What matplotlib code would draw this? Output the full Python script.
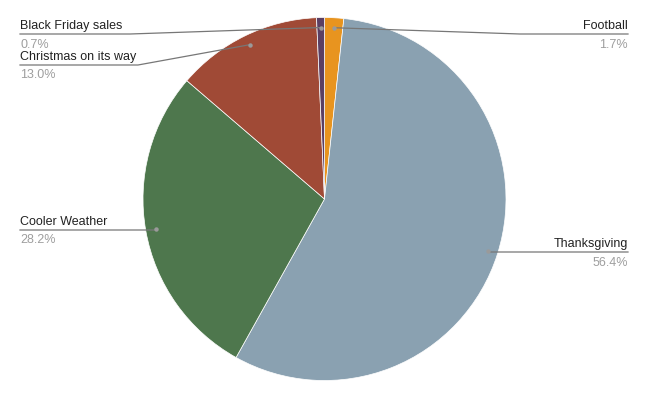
import numpy as np
import matplotlib.pyplot as plt

# Slice data (clockwise from 12 o'clock)
labels = ['Football', 'Thanksgiving', 'Cooler Weather', 'Christmas on its way', 'Black Friday sales']
values = [1.7, 56.4, 28.2, 13.0, 0.7]
colors = ['#E8941F', '#8AA1B1', '#4E774D', '#A04A36', '#5B3F63']

# label layout: (elbow x, line y, text x, side) in pixel coords (y from top)
layout = {
    'Football': (520, 35, 628, 'right'),
    'Thanksgiving': (490, 253, 628, 'right'),
    'Cooler Weather': (155, 231, 20, 'left'),
    'Christmas on its way': (138, 66, 20, 'left'),
    'Black Friday sales': (130, 35, 20, 'left'),
}

W, H = 649, 402
cx, cy, r = 324.5, H - 200, 181.5

fig = plt.figure(figsize=(W / 100, H / 100), dpi=100)
ax = fig.add_axes([0, 0, 1, 1])
plt.rcParams['font.family'] = 'Liberation Sans'

wedges, _ = ax.pie(values, colors=colors, startangle=90, counterclock=False,
                   center=(cx, cy), radius=r, frame=True,
                   wedgeprops=dict(linewidth=0.5, edgecolor='white'))
ax.set_xlim(0, W)
ax.set_ylim(0, H)
ax.set_aspect('equal')
ax.axis('off')

for w, lab, v in zip(wedges, labels, values):
    mid = np.deg2rad((w.theta1 + w.theta2) / 2)
    dx = cx + 0.945 * r * np.cos(mid)
    dy = cy + 0.945 * r * np.sin(mid)
    ex, ly, tx, side = layout[lab]
    ly = H - ly
    ax.plot([dx, ex, tx], [dy, ly, ly], color='#777777', lw=0.9, zorder=3)
    ax.plot(dx, dy, 'o', ms=3.2, color='#9a9a9a', mec='none', zorder=4)
    ax.text(tx, ly + 3, lab, ha=side, va='bottom', fontsize=9, color='#222222')
    ax.text(tx, ly - 3.5, f'{v:.1f}%', ha=side, va='top', fontsize=9, color='#9e9e9e')

plt.savefig('out.png', dpi=100)
